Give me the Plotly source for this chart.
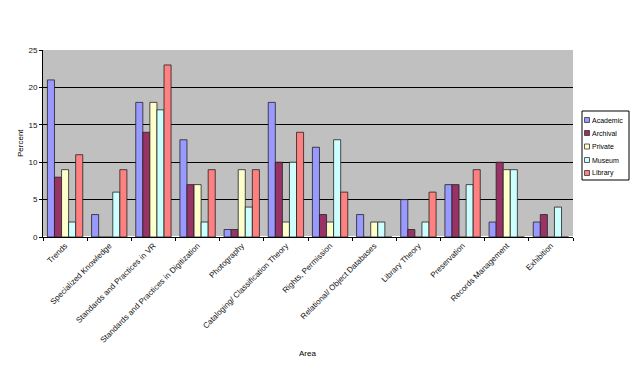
import plotly.graph_objects as go

categories = [
    "Trends",
    "Specialized Knowledge",
    "Standards and Practices in VR",
    "Standards and Practices in Digitization",
    "Photography",
    "Cataloging/ Classification Theory",
    "Rights, Permission",
    "Relational/ Object Databases",
    "Library Theory",
    "Preservation",
    "Records Management",
    "Exhibition",
]

academic = [21, 3, 18, 13, 1, 18, 12, 3, 5, 7, 2, 2]
archival = [8, 0, 14, 7, 1, 10, 3, 0, 1, 7, 10, 3]
private = [9, 0, 18, 7, 9, 2, 2, 2, 0, 0, 9, 0]
museum = [2, 6, 17, 2, 4, 10, 13, 2, 2, 7, 9, 4]
library = [11, 9, 23, 9, 9, 14, 6, 0, 6, 9, 0, 0]

series = [
    ("Academic", academic, "#9999FF"),
    ("Archival", archival, "#993366"),
    ("Private", private, "#FFFFCC"),
    ("Museum", museum, "#CCFFFF"),
    ("Library", library, "#FF8080"),
]

W, H = 637, 374
L, R, T, B = 43, 573, 50, 237

def px(x):
    return (x - L) / (R - L)

def py(y):
    return (B - y) / (B - T)

fig = go.Figure()
for name, vals, color in series:
    fig.add_trace(go.Bar(
        name=name, x=categories, y=vals,
        marker=dict(color=color, line=dict(color="#222222", width=0.8)),
        showlegend=False,
    ))

font = "Liberation Sans, Arial, sans-serif"

# custom compact legend (Excel style)
shapes = [dict(type="rect", xref="paper", yref="paper",
               x0=px(582), x1=px(629), y0=py(180), y1=py(111),
               line=dict(color="black", width=1), fillcolor="white", layer="above")]
annotations = []
ys = [120, 133, 146.5, 160, 173]
for (name, vals, color), yy in zip(series, ys):
    shapes.append(dict(type="rect", xref="paper", yref="paper",
                       x0=px(584.5), x1=px(589.5), y0=py(yy + 2.5), y1=py(yy - 2.5),
                       line=dict(color="#333333", width=0.8), fillcolor=color, layer="above"))
    annotations.append(dict(xref="paper", yref="paper", x=px(589.5), y=py(yy),
                            text=name, showarrow=False, xanchor="left", yanchor="middle",
                            font=dict(family=font, size=7, color="black")))

# axis titles
annotations.append(dict(xref="paper", yref="paper", x=px(20), y=py(143), text="Percent",
                        textangle=-90, showarrow=False, xanchor="center", yanchor="middle",
                        font=dict(family=font, size=8, color="black")))
annotations.append(dict(xref="paper", yref="paper", x=px(307), y=py(353), text="Area",
                        showarrow=False, xanchor="center", yanchor="middle",
                        font=dict(family=font, size=8, color="black")))

fig.update_layout(
    width=W, height=H,
    margin=dict(l=L, r=W - R, t=T, b=H - B),
    paper_bgcolor="white",
    plot_bgcolor="#C0C0C0",
    barmode="group",
    bargap=0.2,
    bargroupgap=0,
    font=dict(family=font, size=8, color="black"),
    showlegend=False,
    shapes=shapes,
    annotations=annotations,
    xaxis=dict(
        tickangle=-45, showline=True, linecolor="black", linewidth=1,
        ticks="outside", tickson="boundaries", ticklen=3, tickcolor="black",
        tickfont=dict(size=8, color="#111111", family=font),
        automargin=False,
    ),
    yaxis=dict(
        range=[0, 25], dtick=5, showgrid=True, gridcolor="black", gridwidth=1,
        showline=True, linecolor="black", linewidth=1,
        ticks="outside", ticklen=3, tickcolor="black",
        tickfont=dict(size=8, color="#111111", family=font),
        automargin=False,
    ),
)

fig.write_html("out.html", config={"displayModeBar": False},
               post_script="document.body.style.margin='0';document.body.style.overflow='hidden';")
